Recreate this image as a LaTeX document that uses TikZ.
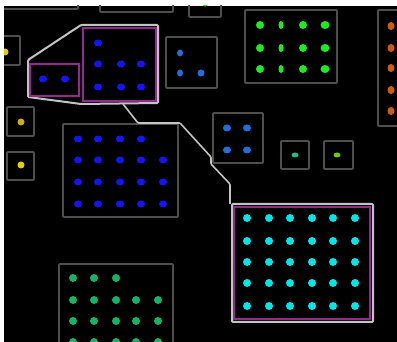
\documentclass[tikz,border=0pt]{standalone}
\usepackage{tikz}

\definecolor{boxgray}{RGB}{78,78,78}
\definecolor{selgray}{RGB}{195,195,195}
\definecolor{selmag}{RGB}{150,40,150}
\definecolor{padblue}{RGB}{20,20,250}
\definecolor{padsteel}{RGB}{30,110,220}
\definecolor{padgreen}{RGB}{30,235,30}
\definecolor{padorange}{RGB}{210,90,10}
\definecolor{padteal}{RGB}{30,190,140}
\definecolor{padlime}{RGB}{110,200,20}
\definecolor{padcyan}{RGB}{0,230,230}
\definecolor{padsea}{RGB}{20,180,100}
\definecolor{padyellow}{RGB}{230,205,0}
\definecolor{padgold}{RGB}{200,175,10}

\tikzset{
  padbox/.style={draw=boxgray, line width=1.8pt, rounded corners=1pt},
  selline/.style={draw=selgray, line width=2pt, rounded corners=1pt},
  selbox/.style={draw=selmag, line width=2.4pt},
}

\begin{document}
\begin{tikzpicture}[x=1pt,y=-1pt]

\useasboundingbox (0,0) rectangle (397,342);
\fill[white] (0,0) rectangle (397,342);
\fill[black] (4,6) rectangle (397,342);
\clip (4,6) rectangle (397,342);

% Boxes cut by the top edge
\draw[padbox] (-10,-20) rectangle (78,9);
\draw[padbox] (100,-20) rectangle (173,12);
\draw[padbox] (189,-20) rectangle (221,17);
\fill[padgreen] (205,4) ellipse (2.5 and 2.5);

% Yellow pads on the left
\draw[padbox] (-10,36) rectangle (20,65);
\fill[padyellow] (5,52) ellipse (3.5 and 3.5);
\draw[padbox] (7,107) rectangle (34,136);
\fill[padgold] (21,122) ellipse (3.5 and 3.5);
\draw[padbox] (7,152) rectangle (34,180);
\fill[padyellow] (21,165) ellipse (3.5 and 3.5);

% Selected group, top left
\draw[selline] (81,25) -- (158,25) -- (158,103) -- (81,104) -- (28,97) -- (28,60) -- cycle;
\draw[selbox] (30,64) rectangle (79,96);
\draw[selbox] (83,28) rectangle (156,101);
\foreach \x in {43,65}
  \fill[padblue] (\x,79) ellipse (4 and 3.5);
\fill[padblue] (98,43) ellipse (4 and 3.5);
\foreach \x in {98,121,141}
  \foreach \y in {64,87}
    \fill[padblue] (\x,\y) ellipse (4 and 3.5);

% Steel blue pads
\draw[padbox] (166,37) rectangle (217,88);
\fill[padsteel] (180,53) ellipse (3 and 3.5);
\fill[padsteel] (180,73) ellipse (3 and 3.5);
\fill[padsteel] (201,73) ellipse (3.5 and 3.5);
\draw[padbox] (213,113) rectangle (263,163);
\foreach \x in {227,247}
  \foreach \y in {128,150}
    \fill[padsteel] (\x,\y) ellipse (4 and 3.5);

% Green pads
\draw[padbox] (245,10) rectangle (337,83);
\foreach \y in {25,48,69} {
  \fill[padgreen] (260,\y) ellipse (4 and 4);
  \fill[padgreen] (281,\y) ellipse (2.5 and 4);
  \fill[padgreen] (303,\y) ellipse (4 and 4);
  \fill[padgreen] (325,\y) ellipse (4.5 and 4);
}

% Orange pads
\draw[padbox] (378,10) rectangle (410,126);
\foreach \y in {26,48,68,90,111}
  \fill[padorange] (391,\y) ellipse (3.5 and 4);

% Single pads
\draw[padbox] (281,141) rectangle (309,169);
\fill[padteal] (295,155) ellipse (3.5 and 2.5);
\draw[padbox] (324,141) rectangle (353,169);
\fill[padlime] (337,155) ellipse (3.5 and 2.5);

% Blue pad array
\draw[padbox] (63,124) rectangle (178,217);
\foreach \x in {78,98,120,141}
  \fill[padblue] (\x,139) ellipse (4 and 3.5);
\foreach \x in {78,98,120,141,163}
  \foreach \y in {160,182,204}
    \fill[padblue] (\x,\y) ellipse (4 and 3.5);

% Cyan pad array, selected
\draw[selline] (232,204) rectangle (373,322);
\draw[selbox] (234,207) rectangle (370,319);
\foreach \x in {247,269,290,312,333,355}
  \foreach \y in {218,241,262,283,306}
    \fill[padcyan] (\x,\y) ellipse (4 and 4);

% Link between the two selections
\coordinate (linkA) at (123,104);
\coordinate (linkB) at (230,204);
\draw[selline, line width=1.6pt] (linkA) -- (138,123) -- (180,123) -- (211,157)
  -- (211,164) -- (230,184) -- (linkB);

% Sea green pad array
\draw[padbox] (59,264) rectangle (173,360);
\foreach \x in {73,94,116}
  \fill[padsea] (\x,278) ellipse (4 and 4);
\foreach \x in {73,94,116,136,158}
  \foreach \y in {300,321,342}
    \fill[padsea] (\x,\y) ellipse (4 and 4);

\end{tikzpicture}
\end{document}
